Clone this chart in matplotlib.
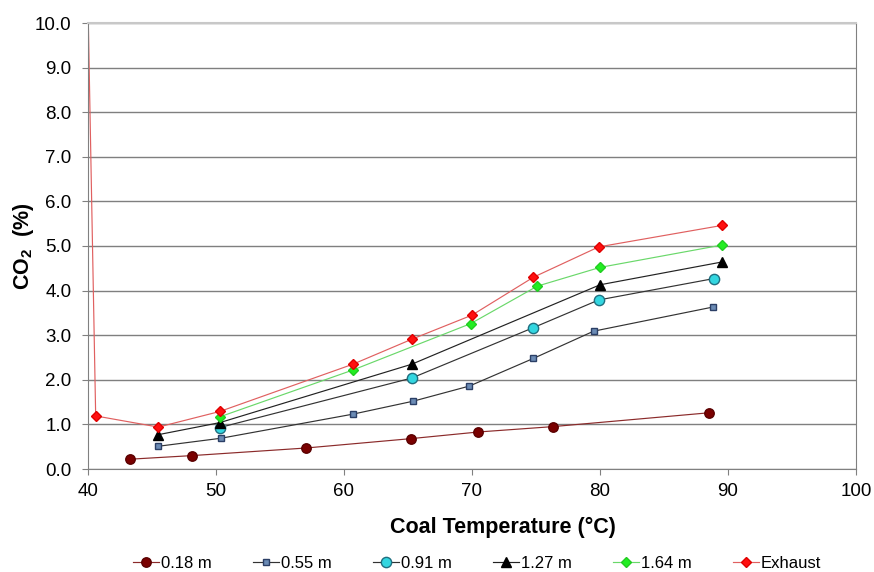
import matplotlib

matplotlib.use("Agg")
import matplotlib.pyplot as plt

plt.rcParams["font.family"] = ["Liberation Sans", "DejaVu Sans"]
plt.rcParams["mathtext.fontset"] = "custom"
plt.rcParams["mathtext.rm"] = "Liberation Sans"
plt.rcParams["mathtext.bf"] = "Liberation Sans:bold"

# (coal temperature in degC, CO2 in %)
T_018 = [43.3, 48.1, 57.0, 65.2, 70.5, 76.3, 88.5]
CO2_018 = [0.22, 0.30, 0.47, 0.68, 0.83, 0.95, 1.26]

T_055 = [45.5, 50.4, 60.7, 65.4, 69.8, 74.8, 79.5, 88.8]
CO2_055 = [0.51, 0.69, 1.23, 1.52, 1.86, 2.48, 3.09, 3.63]

T_091 = [50.3, 65.3, 74.8, 79.9, 88.9]
CO2_091 = [0.93, 2.04, 3.17, 3.79, 4.27]

T_127 = [45.5, 50.3, 65.3, 80.0, 89.5]
CO2_127 = [0.77, 1.04, 2.35, 4.13, 4.64]

T_164 = [50.3, 60.7, 69.9, 75.1, 80.0, 89.5]
CO2_164 = [1.17, 2.22, 3.26, 4.10, 4.52, 5.02]

T_EXH = [40.0, 40.6, 45.5, 50.3, 60.7, 65.3, 70.0, 74.8, 79.9, 89.5]
CO2_EXH = [10.4, 1.19, 0.94, 1.29, 2.35, 2.91, 3.45, 4.30, 4.98, 5.46]

X_TICKS = [40, 50, 60, 70, 80, 90, 100]
Y_TICKS = [0, 1, 2, 3, 4, 5, 6, 7, 8, 9, 10]

SERIES = [
    ("0.18 m", T_018, CO2_018, dict(color="#8b2a2a", marker="o", ms=6.8, mfc="#7a0000", mec="#5a0000")),
    ("0.55 m", T_055, CO2_055, dict(color="#333333", marker="s", ms=4.2, mfc="#6b8bb5", mec="#2b3f66")),
    ("0.91 m", T_091, CO2_091, dict(color="#333333", marker="o", ms=7.4, mfc="#33d6e0", mec="#1f6f80")),
    ("1.27 m", T_127, CO2_127, dict(color="#222222", marker="^", ms=6.8, mfc="black", mec="black")),
    ("1.64 m", T_164, CO2_164, dict(color="#6ad86a", marker="D", ms=5.0, mfc="#22ee22", mec="#22cc22")),
    ("Exhaust", T_EXH, CO2_EXH, dict(color="#e06060", marker="D", ms=5.0, mfc="#ff1010", mec="#e00000")),
]


def main():
    fig = plt.figure(figsize=(8.74, 5.72), dpi=100)
    ax = fig.add_axes([88 / 874, 1 - 469 / 572, 768 / 874, 446 / 572])

    for label, xs, ys, style in SERIES:
        ax.plot(xs, ys, lw=0.85, label=label, **style)

    ax.set_xlim(40, 100)
    ax.set_ylim(0, 10)
    ax.set_xticks(X_TICKS)
    ax.set_yticks(Y_TICKS)
    ax.set_yticklabels([f"{v:.1f}" for v in Y_TICKS])
    ax.tick_params(axis="both", labelsize=13.5, direction="out", color="#808080", length=4.3)
    ax.tick_params(axis="x", pad=6)
    ax.tick_params(axis="y", pad=7.5)

    ax.grid(axis="y", color="#7f7f7f", lw=1.0)
    ax.set_axisbelow(True)
    for side in ("left", "bottom", "right"):
        ax.spines[side].set_color("#808080")
    ax.spines["top"].set_color("#c8c8c8")
    ax.spines["top"].set_linewidth(1.5)

    # axis titles sit where Excel put them (x title is a bit right of centre)
    fig.text(503 / 874, 1 - 533 / 572, "Coal Temperature (°C)",
             fontsize=15.5, weight="bold", ha="center", va="baseline")
    fig.text(24 / 874, 1 - 246 / 572, "CO$_\\mathbf{2}$  (%)",
             fontsize=15.5, weight="bold", rotation=90, ha="center", va="center")

    ax.legend(
        loc="center",
        bbox_to_anchor=(477 / 874, 1 - 563 / 572),
        bbox_transform=fig.transFigure,
        ncol=6,
        frameon=False,
        fontsize=12,
        handlelength=1.6,
        handletextpad=0.1,
        columnspacing=2.45,
        borderpad=0,
    )

    fig.savefig("out.png", dpi=100)


if __name__ == "__main__":
    main()
